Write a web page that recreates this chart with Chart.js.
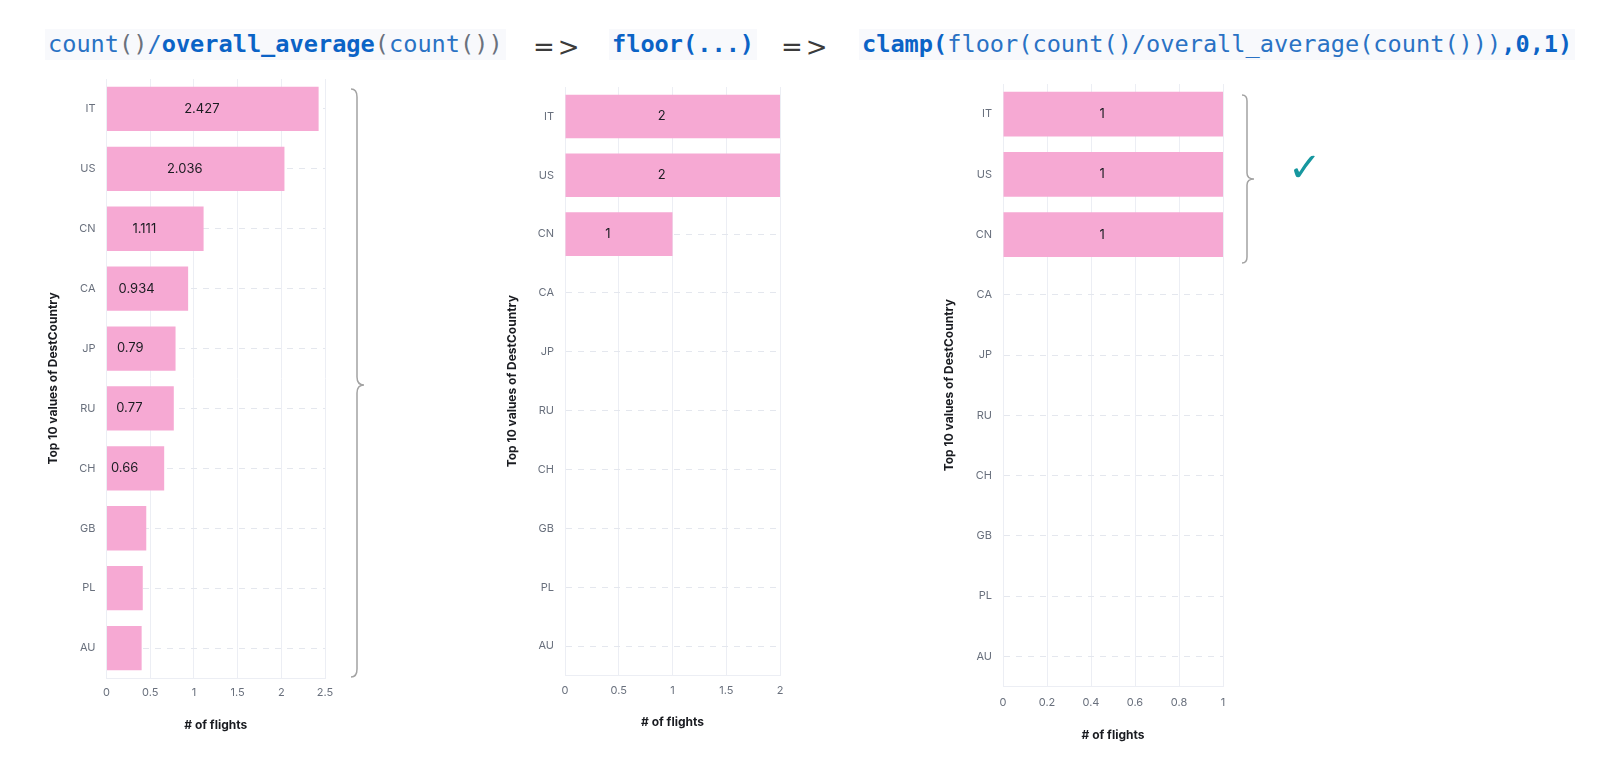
<!DOCTYPE html>
<html>
<head>
<meta charset="utf-8">
<script src="https://cdn.jsdelivr.net/npm/chart.js@4.4.1/dist/chart.umd.min.js"></script>
<style>
  html, body { margin:0; padding:0; background:#ffffff; }
  body { width:1600px; height:773px; position:relative; overflow:hidden; }
  canvas { position:absolute; }
  .code { position:absolute; top:29px; height:31px; line-height:31px; font-family:"DejaVu Sans Mono", monospace; font-size:23.6px; background:#f8f9fc; padding:0 3px; white-space:pre; color:#2a72c4; }
  .code b { font-weight:bold; color:#0b63c6; }
  .code .p { color:#6a717d; }
  .arrow { position:absolute; top:32px; line-height:31px; font-family:"DejaVu Sans", sans-serif; font-size:26px; letter-spacing:3px; color:#3b3b3b; white-space:pre; }
  .check { position:absolute; left:1288px; top:147px; line-height:40px; font-family:"DejaVu Sans", sans-serif; font-size:40px; color:#16979f; }
  svg { position:absolute; left:0; top:0; }
</style>
</head>
<body>
<div class="code" style="left:45px;">count<span class="p">()</span>/<b>overall_average</b><span class="p">(</span>count<span class="p">())</span></div>
<div class="arrow" style="left:533px;">=&gt;</div>
<div class="code" style="left:609px;"><b>floor(...)</b></div>
<div class="arrow" style="left:781px;">=&gt;</div>
<div class="code" style="left:859px;"><b>clamp(</b>floor(count()/overall_average(count()))<b>,0,1)</b></div>

<canvas id="c1"></canvas>
<canvas id="c2"></canvas>
<canvas id="c3"></canvas>

<svg width="1600" height="773">
  <path d="M351,89 Q357,89 357,97 L357,377 Q357,385 364,385 Q357,385 357,393 L357,669 Q357,677 351,677" fill="none" stroke="#a3a3a3" stroke-width="1.5"/>
  <path d="M1242,95 Q1247,95 1247,101 L1247,173 Q1247,179 1254,179 Q1247,179 1247,185 L1247,257 Q1247,263 1242,263" fill="none" stroke="#a3a3a3" stroke-width="1.5"/>
</svg>
<div class="check">✓</div>

<script>
// ---- data ----
const categories = ['IT', 'US', 'CN', 'CA', 'JP', 'RU', 'CH', 'GB', 'PL', 'AU'];
const ratioValues = [2.427, 2.036, 1.111, 0.934, 0.79, 0.77, 0.66, 0.455, 0.415, 0.402];
const floorValues = [2, 2, 1, 0, 0, 0, 0, 0, 0, 0];
const clampValues = [1, 1, 1, 0, 0, 0, 0, 0, 0, 0];
const ratioAxis = { max: 2.5, step: 0.5 };
const floorAxis = { max: 2, step: 0.5 };
const clampAxis = { max: 1, step: 0.2 };
const yAxisTitle = 'Top 10 values of DestCountry';
const xAxisTitle = '# of flights';

// ---- styles ----
const PINK = '#f6a9d3';
const GRID = '#eceef4';
const DASH = '#e4e7ee';
const TICK = '#69707d';
const INK = '#1a1c21';

const valueLabels = {
  id: 'valueLabels',
  afterDatasetsDraw(chart) {
    const ctx = chart.ctx;
    const meta = chart.getDatasetMeta(0);
    const data = chart.data.datasets[0].data;
    ctx.save();
    ctx.font = '13px Inter';
    ctx.fillStyle = INK;
    ctx.textAlign = 'center';
    ctx.textBaseline = 'middle';
    meta.data.forEach((bar, i) => {
      const v = data[i];
      if (!v) return;
      const txt = String(v);
      const w = Math.abs(bar.x - bar.base);
      if (ctx.measureText(txt).width + 22 > w) return;
      ctx.fillText(txt, (bar.x + bar.base) / 2 - 11, bar.y);
    });
    ctx.restore();
  }
};

function makeChart(id, values, axis, g) {
  const cl = g.yTitleX - 16, ct = g.T - 24, cr = g.R + 30, cb = g.xTitleY + 16;
  const canvas = document.getElementById(id);
  canvas.width = cr - cl;
  canvas.height = cb - ct;
  canvas.style.left = cl + 'px';
  canvas.style.top = ct + 'px';
  new Chart(canvas, {
    type: 'bar',
    data: {
      labels: categories,
      datasets: [{ data: values, backgroundColor: PINK, borderWidth: 0, categoryPercentage: 0.74, barPercentage: 1 }]
    },
    options: {
      indexAxis: 'y',
      responsive: false,
      animation: false,
      layout: { padding: { left: 0, top: g.T - ct, right: cr - g.R, bottom: 0 } },
      plugins: { legend: { display: false }, tooltip: { enabled: false } },
      scales: {
        x: {
          min: 0, max: axis.max,
          ticks: {
            stepSize: axis.step, color: TICK, font: { family: 'Inter', size: 11, lineHeight: 1.2 }, padding: g.xTickPad, maxRotation: 0,
            callback: (v) => String(Math.round(v * 1000) / 1000)
          },
          grid: { color: GRID, drawTicks: false, lineWidth: 1 },
          border: { color: GRID },
          title: { display: true, text: xAxisTitle, color: INK, font: { family: 'Inter', size: 12, weight: 'bold', lineHeight: 1.2 }, padding: { top: 0, bottom: (cb - g.xTitleY) - 7.2 } },
          afterFit(s) { s.height = cb - g.B; }
        },
        y: {
          ticks: { color: TICK, font: { family: 'Inter', size: 11, lineHeight: 1.2 }, padding: 11 },
          grid: { offset: false, color: DASH, drawTicks: false, lineWidth: 1 },
          border: { color: GRID, dash: [6, 6] },
          title: { display: true, text: yAxisTitle, color: INK, font: { family: 'Inter', size: 12, weight: 'bold', lineHeight: 1.2 }, padding: { top: (g.yTitleX - cl) - 7.2, bottom: 0 } },
          afterFit(s) { s.width = g.L - cl; }
        }
      }
    },
    plugins: [valueLabels]
  });
}

makeChart('c1', ratioValues, ratioAxis, { L: 106, R: 325, T: 79, B: 678, yTitleX: 52.5, xTitleY: 725, xTickPad: 8.5 });
makeChart('c2', floorValues, floorAxis, { L: 565, R: 780, T: 86.5, B: 675.5, yTitleX: 512, xTitleY: 722, xTickPad: 9 });
makeChart('c3', clampValues, clampAxis, { L: 1003, R: 1223, T: 83.5, B: 686.5, yTitleX: 949, xTitleY: 735, xTickPad: 10 });
</script>
</body>
</html>
